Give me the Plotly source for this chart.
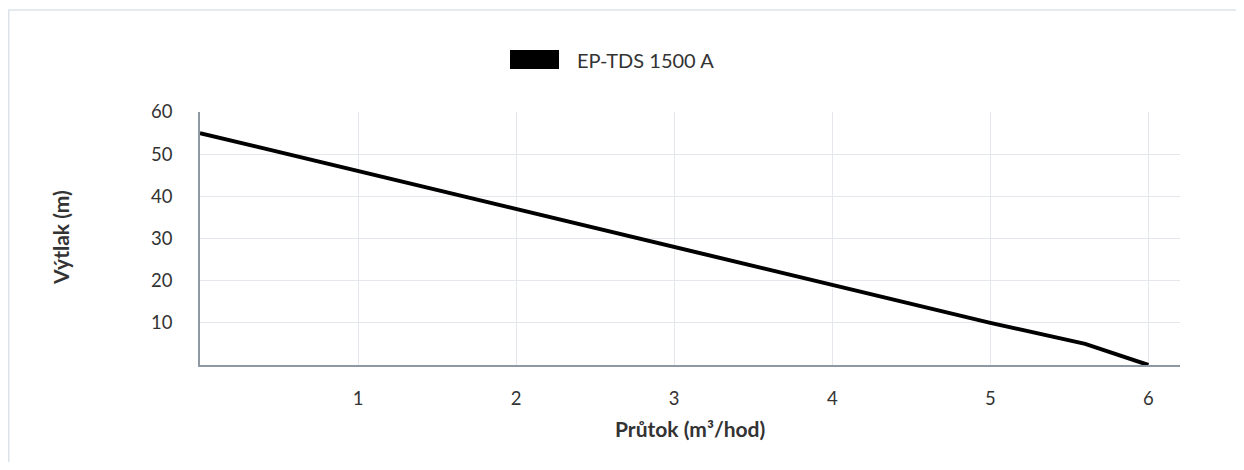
import plotly.graph_objects as go

series_name = "EP-TDS 1500 A"
flow = [0, 1, 2, 3, 4, 5, 5.6, 6]
head = [55, 46, 37, 28, 19, 10, 5, 0]
x_ticks = [1, 2, 3, 4, 5, 6]
y_ticks = [10, 20, 30, 40, 50, 60]
x_title = "Průtok (m³/hod)"
y_title = "Výtlak (m)"

# page body has an 8px margin; figure coordinates below are offset accordingly
W, H = 1228, 454
ml, mr, mt, mb = 192, 56, 104, 97
pw, ph = W - ml - mr, H - mt - mb

def px(x):
    return (x - ml) / pw

def py(y):
    return (H - mb - y) / ph

fig = go.Figure()
fig.add_trace(go.Scatter(x=flow, y=head, mode="lines", name=series_name,
                         line=dict(color="black", width=4), showlegend=False))

fam = "Lato, 'Open Sans', sans-serif"
txt = "#333333"

fig.update_layout(
    width=W, height=H,
    margin=dict(l=ml, r=mr, t=mt, b=mb),
    paper_bgcolor="white", plot_bgcolor="white",
    font=dict(family=fam, color=txt, size=18.5),
    showlegend=False,
    xaxis=dict(range=[0, 6.2], tickvals=x_ticks, showgrid=True, gridcolor="#e4e7eb",
               showline=True, linecolor="#8f99a3", linewidth=2, zeroline=False,
               ticks="", ticklabelstandoff=16, tickfont=dict(size=18.5)),
    yaxis=dict(range=[0, 60], tickvals=y_ticks, showgrid=True, gridcolor="#e4e7eb",
               showline=True, linecolor="#8f99a3", linewidth=1.5, zeroline=False,
               ticks="", ticklabelstandoff=22, tickfont=dict(size=18.5)),
    shapes=[
        dict(type="line", xref="paper", yref="paper",
             x0=px(0.75), x1=px(0.75), y0=py(2), y1=py(H),
             line=dict(color="#dde3ea", width=1.5), layer="below"),
        dict(type="line", xref="paper", yref="paper",
             x0=px(0), x1=px(W), y0=py(2), y1=py(2),
             line=dict(color="#dde3ea", width=1.5), layer="below"),
        dict(type="rect", xref="paper", yref="paper",
             x0=px(502), x1=px(551), y0=py(42), y1=py(61),
             line=dict(width=0), fillcolor="black"),
    ],
    annotations=[
        dict(text=series_name, xref="paper", yref="paper", x=px(567), y=py(52),
             xanchor="left", yanchor="middle", showarrow=False,
             font=dict(family=fam, size=20, color=txt)),
        dict(text="<b>" + x_title + "</b>", xref="paper", yref="paper",
             x=px(682), y=py(421), xanchor="center", yanchor="middle", showarrow=False,
             font=dict(family=fam, size=21, color=txt)),
        dict(text="<b>" + y_title + "</b>", xref="paper", yref="paper",
             x=px(52), y=py(230), xanchor="center", yanchor="middle", showarrow=False,
             textangle=-90, font=dict(family=fam, size=21, color=txt)),
    ],
)

fig.write_html("out.html")
